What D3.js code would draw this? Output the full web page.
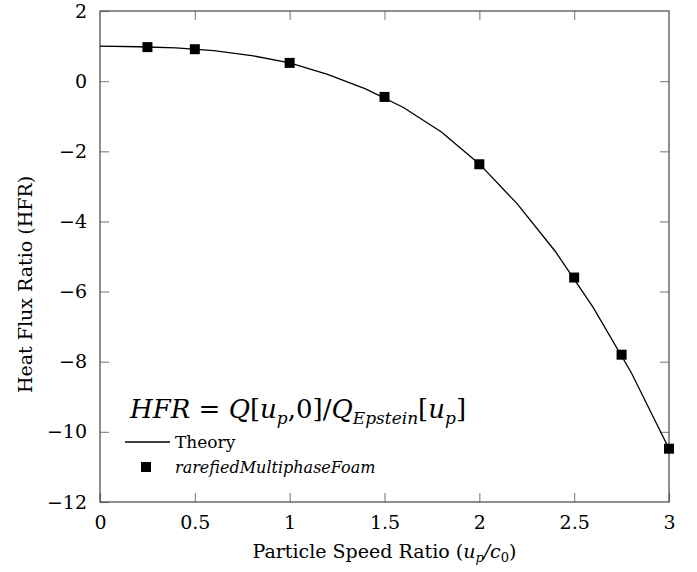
<!DOCTYPE html>
<html>
<head>
<meta charset="utf-8">
<script src="https://cdn.jsdelivr.net/npm/d3@7"></script>
<style>
  body { margin: 0; background: #fff; }
  text { font-family: "DejaVu Serif", serif; fill: #000; }
  .frame { fill: none; stroke: #444; stroke-width: 1.2; }
  .tick line { stroke: #8a8a8a; stroke-width: 1.2; }
</style>
</head>
<body>
<svg id="chart" width="697" height="572"></svg>
<script>
// theory curve
let theoryX = [0, 0.2, 0.4, 0.6, 0.8, 1.0, 1.2, 1.4, 1.6, 1.8, 2.0, 2.2, 2.4, 2.6, 2.8, 3.0];
let theoryY = [1.0, 0.98, 0.95, 0.87, 0.73, 0.52, 0.19, -0.22, -0.75, -1.45, -2.36, -3.5, -4.85, -6.45, -8.3, -10.48];

// simulation points
let simX = [0.25, 0.5, 1.0, 1.5, 2.0, 2.5, 2.75, 3.0];
let simY = [0.97, 0.91, 0.52, -0.45, -2.37, -5.6, -7.8, -10.48];

let xTicks = [0, 0.5, 1, 1.5, 2, 2.5, 3];
let yTicks = [-12, -10, -8, -6, -4, -2, 0, 2];

let svg = d3.select("#chart");
let pLeft = 100, pTop = 11, pRight = 669, pBottom = 502;

let x = d3.scaleLinear().domain([0, 3]).range([pLeft, pRight]);
let y = d3.scaleLinear().domain([-12, 2]).range([pBottom, pTop]);

// axes with inward ticks on all four sides
let tl = 9;
svg.append("g").attr("transform", "translate(0," + pBottom + ")")
  .call(d3.axisBottom(x).tickValues(xTicks).tickSize(-tl).tickPadding(tl + 5).tickFormat(d3.format("")))
  .call(g => g.select(".domain").remove())
  .selectAll("text").style("font-size", "19px").style("font-family", "DejaVu Serif");
svg.append("g").attr("transform", "translate(0," + pTop + ")")
  .call(d3.axisTop(x).tickValues(xTicks.slice(1, -1)).tickSize(-tl).tickFormat(""))
  .call(g => g.select(".domain").remove());
svg.append("g").attr("transform", "translate(" + pLeft + ",0)")
  .call(d3.axisLeft(y).tickValues(yTicks).tickSize(-tl).tickPadding(tl + 4))
  .call(g => g.select(".domain").remove())
  .selectAll("text").style("font-size", "19px").style("font-family", "DejaVu Serif");
svg.append("g").attr("transform", "translate(" + pRight + ",0)")
  .call(d3.axisRight(y).tickValues(yTicks.slice(1, -1)).tickSize(-tl).tickFormat(""))
  .call(g => g.select(".domain").remove());

svg.append("rect").attr("class", "frame")
  .attr("x", pLeft).attr("y", pTop).attr("width", pRight - pLeft).attr("height", pBottom - pTop);

// theory line
let line = d3.line().x(d => x(d[0])).y(d => y(d[1]));
svg.append("path")
  .datum(d3.zip(theoryX, theoryY))
  .attr("d", line)
  .attr("fill", "none").attr("stroke", "#000").attr("stroke-width", 1.3);

// markers
let ms = 10;
svg.selectAll(".pt").data(d3.zip(simX, simY)).enter().append("rect")
  .attr("class", "pt")
  .attr("x", d => x(d[0]) - ms / 2).attr("y", d => y(d[1]) - ms / 2)
  .attr("width", ms).attr("height", ms).attr("fill", "#000");

// axis labels
svg.append("text").attr("x", (pLeft + pRight) / 2).attr("y", 558)
  .attr("text-anchor", "middle").style("font-size", "19px")
  .html('Particle Speed Ratio (<tspan font-style="italic">u</tspan><tspan font-style="italic" font-size="13px" dy="4">p</tspan><tspan dy="-4" font-style="italic">/c</tspan><tspan font-size="13px" dy="4">0</tspan><tspan dy="-4">)</tspan>');
svg.append("text").attr("transform", "translate(32," + ((pTop + pBottom) / 2 + 28) + ") rotate(-90)")
  .attr("text-anchor", "middle").style("font-size", "19px")
  .text("Heat Flux Ratio (HFR)");

// legend
let leg = svg.append("g");
leg.append("text").attr("x", 130).attr("y", 418).style("font-size", "26px").style("font-style", "italic")
  .html('HFR<tspan font-style="normal"> = </tspan>Q<tspan font-style="normal">[</tspan>u<tspan font-size="17px" dy="6">p</tspan><tspan dy="-6" font-style="normal">,0]/</tspan>Q<tspan font-size="17px" dy="6">Epstein</tspan><tspan dy="-6" font-style="normal">[</tspan>u<tspan font-size="17px" dy="6">p</tspan><tspan dy="-6" font-style="normal">]</tspan>');
leg.append("line").attr("x1", 125).attr("x2", 170).attr("y1", 442).attr("y2", 442)
  .attr("stroke", "#000").attr("stroke-width", 1.3);
leg.append("text").attr("x", 175).attr("y", 448).style("font-size", "17px").text("Theory");
leg.append("rect").attr("x", 141).attr("y", 462).attr("width", ms).attr("height", ms).attr("fill", "#000");
leg.append("text").attr("x", 175).attr("y", 473).style("font-size", "16px").style("font-style", "italic")
  .text("rarefiedMultiphaseFoam");
</script>
</body>
</html>
